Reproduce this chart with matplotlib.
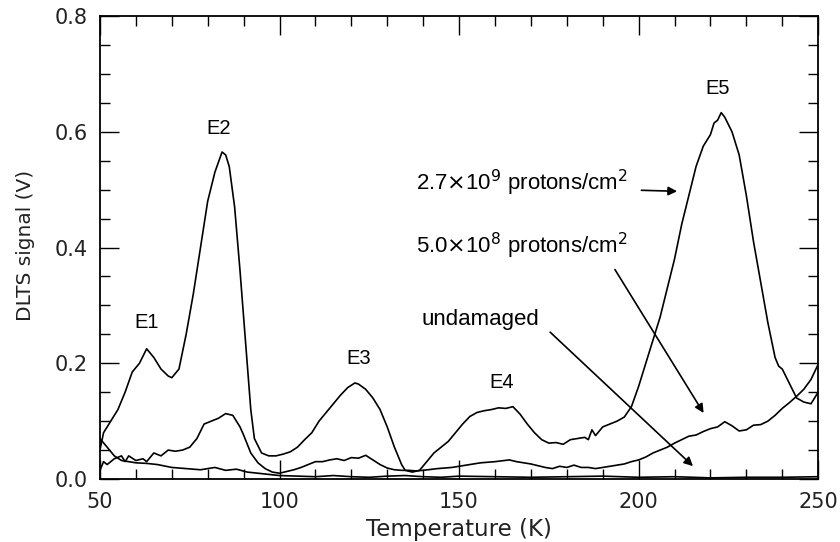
import matplotlib
matplotlib.use('Agg')
import matplotlib.pyplot as plt
from matplotlib.ticker import MultipleLocator

# 2.7x10^9 protons/cm^2 curve
temp_high = [50, 51, 53, 55, 57, 59, 61, 63, 65, 67, 69, 70, 72, 74, 76, 78, 80, 82, 84, 85,
             86, 87.5, 89, 90.5, 92, 93, 95, 97, 99, 101, 103, 105, 107, 109, 111, 113, 115,
             117, 119, 121, 122, 124, 126, 128, 130, 132, 134, 135, 137, 139, 141, 143, 145,
             147, 149, 151, 153, 155, 157, 159, 161, 163, 165, 167, 169, 171, 173, 175, 177,
             179, 181, 183, 185, 186, 187, 188, 190, 192, 194, 196, 198, 200, 202, 204, 206,
             208, 210, 212, 214, 216, 218, 220, 221, 222, 223, 224, 226, 228, 230, 232, 234,
             236, 238, 239, 240, 242, 244, 246, 248, 250]
sig_high = [0.05, 0.08, 0.10, 0.12, 0.15, 0.185, 0.20, 0.225, 0.21, 0.19, 0.178, 0.175, 0.19,
            0.25, 0.32, 0.40, 0.48, 0.53, 0.565, 0.56, 0.54, 0.47, 0.36, 0.24, 0.12, 0.07,
            0.045, 0.04, 0.04, 0.043, 0.047, 0.055, 0.068, 0.08, 0.10, 0.115, 0.13, 0.145,
            0.158, 0.166, 0.164, 0.155, 0.14, 0.12, 0.09, 0.055, 0.025, 0.015, 0.012, 0.015,
            0.03, 0.045, 0.055, 0.065, 0.08, 0.095, 0.108, 0.115, 0.118, 0.12, 0.123, 0.122,
            0.125, 0.112, 0.095, 0.08, 0.068, 0.062, 0.063, 0.06, 0.068, 0.07, 0.072, 0.068,
            0.085, 0.075, 0.09, 0.095, 0.10, 0.107, 0.125, 0.16, 0.20, 0.24, 0.28, 0.33, 0.38,
            0.44, 0.49, 0.54, 0.575, 0.595, 0.615, 0.62, 0.633, 0.625, 0.60, 0.56, 0.49, 0.41,
            0.34, 0.27, 0.21, 0.195, 0.19, 0.165, 0.14, 0.133, 0.13, 0.15]

# 5.0x10^8 protons/cm^2 curve
temp_mid = [50, 51, 52, 54, 56, 57, 58, 60, 62, 63, 65, 67, 69, 71, 73, 75, 77, 79, 81, 83,
            85, 87, 89, 90, 92, 94, 96, 98, 100, 102, 104, 106, 108, 110, 112, 114, 116, 118,
            120, 122, 124, 126, 128, 130, 132, 134, 136, 138, 140, 144, 148, 152, 156, 160,
            164, 166, 168, 170, 172, 174, 176, 178, 180, 182, 184, 186, 188, 190, 192, 194,
            196, 198, 200, 202, 204, 206, 208, 210, 212, 214, 216, 218, 220, 222, 224, 226,
            228, 230, 232, 234, 236, 238, 240, 242, 244, 246, 248, 250]
sig_mid = [0.015, 0.03, 0.025, 0.035, 0.04, 0.03, 0.04, 0.032, 0.035, 0.03, 0.045, 0.04,
           0.05, 0.048, 0.05, 0.055, 0.07, 0.095, 0.10, 0.105, 0.113, 0.11, 0.09, 0.076,
           0.045, 0.028, 0.018, 0.012, 0.01, 0.013, 0.016, 0.02, 0.025, 0.03, 0.03, 0.033,
           0.035, 0.032, 0.037, 0.036, 0.041, 0.033, 0.025, 0.019, 0.016, 0.015, 0.015, 0.014,
           0.015, 0.018, 0.02, 0.024, 0.028, 0.03, 0.033, 0.03, 0.028, 0.026, 0.023, 0.02,
           0.018, 0.022, 0.02, 0.024, 0.02, 0.02, 0.018, 0.02, 0.022, 0.024, 0.026, 0.03,
           0.033, 0.038, 0.045, 0.05, 0.055, 0.062, 0.068, 0.074, 0.076, 0.082, 0.087, 0.09,
           0.099, 0.092, 0.083, 0.085, 0.093, 0.094, 0.10, 0.11, 0.122, 0.132, 0.143, 0.155,
           0.172, 0.198]

# undamaged curve
temp_low = [50, 52, 54, 56, 58, 60, 63, 66, 70, 74, 78, 82, 85, 88, 91, 94, 97, 100, 105,
            110, 115, 120, 125, 130, 135, 140, 145, 150, 160, 170, 180, 190, 200, 210, 220,
            230, 240, 250]
sig_low = [0.07, 0.055, 0.04, 0.032, 0.03, 0.028, 0.027, 0.025, 0.02, 0.018, 0.016, 0.02,
           0.015, 0.017, 0.012, 0.01, 0.008, 0.006, 0.005, 0.004, 0.006, 0.004, 0.003, 0.005,
           0.006, 0.004, 0.003, 0.005, 0.004, 0.003, 0.004, 0.005, 0.003, 0.004, 0.002,
           0.003, 0.003, 0.004]

peak_names = ['E1', 'E2', 'E3', 'E4', 'E5']
peak_T = [63, 83, 122, 162, 222]
peak_V = [0.27, 0.606, 0.209, 0.166, 0.675]

fig = plt.figure(figsize=(8.4, 5.42), dpi=100)
ax = fig.add_axes([0.119, 0.1162, 0.855, 0.8543])

for t, s in [(temp_high, sig_high), (temp_mid, sig_mid), (temp_low, sig_low)]:
    ax.plot(t, s, color='black', lw=1.2)

ax.set_xlim(50, 250)
ax.set_ylim(0, 0.8)
ax.xaxis.set_major_locator(MultipleLocator(50))
ax.xaxis.set_minor_locator(MultipleLocator(10))
ax.yaxis.set_major_locator(MultipleLocator(0.2))
ax.yaxis.set_minor_locator(MultipleLocator(0.05))
ax.yaxis.set_major_formatter(plt.FormatStrFormatter('%.1f'))
ax.tick_params(which='both', direction='in', top=True, right=True, color='black')
ax.tick_params(which='major', length=14, width=1.0, labelsize=15, pad=9,
               labelcolor='#222222')
ax.tick_params(which='minor', length=7, width=1.0)
for sp in ax.spines.values():
    sp.set_linewidth(1.3)

ax.set_xlabel('Temperature (K)', fontsize=16.5, color='#222222', va='top')
ax.xaxis.set_label_coords(0.5, -0.085)
ax.set_ylabel('DLTS signal (V)', fontsize=14.5, color='#222222')
ax.yaxis.set_label_coords(-0.09, 0.505)

for name, t, v in zip(peak_names, peak_T, peak_V):
    ax.text(t, v, name, fontsize=14.5, family='Liberation Sans', ha='center', va='center')

ax.text(197, 0.511, r'2.7$\times$10$^9$ protons/cm$^2$', fontsize=16,
        family='Liberation Sans', ha='right', va='center')
ax.text(197, 0.403, r'5.0$\times$10$^8$ protons/cm$^2$', fontsize=16,
        family='Liberation Sans', ha='right', va='center')
ax.text(156, 0.275, 'undamaged', fontsize=16, family='Liberation Sans',
        ha='center', va='center')

arrow = dict(arrowstyle='-|>', color='black', lw=1.2, mutation_scale=13)
ax.annotate('', xy=(211.5, 0.497), xytext=(200, 0.499), arrowprops=arrow)
ax.annotate('', xy=(218.5, 0.11), xytext=(193, 0.366), arrowprops=arrow)
ax.annotate('', xy=(215.7, 0.019), xytext=(174.8, 0.257), arrowprops=arrow)

fig.savefig('out.png', dpi=100)
